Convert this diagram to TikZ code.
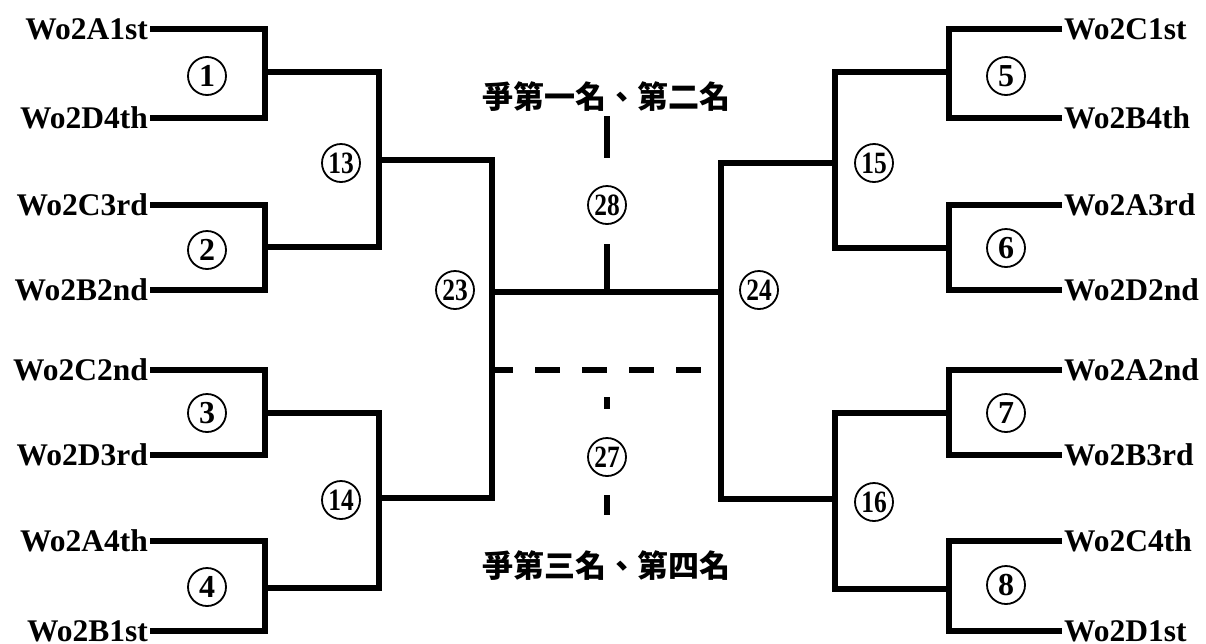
\documentclass[tikz,border=0pt]{standalone}
\usepackage{fontspec}
\usepackage{graphicx}
\setmainfont{Liberation Serif}
\newfontfamily\cjk{Noto Sans CJK TC}
\begin{document}
\begin{tikzpicture}[x=1pt,y=-1pt,
  br/.style={line width=6pt},
  dashbr/.style={line width=6pt,dash pattern=on 25pt off 22pt,dash phase=4pt},
  team/.style={font=\fontsize{31.5}{36}\selectfont\bfseries,inner ysep=0pt,inner xsep=2pt},
  game/.style={circle,draw,line width=1.8pt,minimum size=38pt,inner sep=0pt,font=\fontsize{32}{36}\selectfont\bfseries},
  gameii/.style={game,font=\fontsize{31}{34}\selectfont\bfseries},
  title/.style={font=\cjk\bfseries\fontsize{31}{36}\selectfont,inner sep=0pt}]
\useasboundingbox (0,0) rectangle (1206,643);

% left teams
\node[team,anchor=east] (L1) at (150,29)  {Wo2A1st};
\node[team,anchor=east] (L2) at (150,118) {Wo2D4th};
\node[team,anchor=east] (L3) at (150,205) {Wo2C3rd};
\node[team,anchor=east] (L4) at (150,290) {Wo2B2nd};
\node[team,anchor=east] (L5) at (150,370) {Wo2C2nd};
\node[team,anchor=east] (L6) at (150,455) {Wo2D3rd};
\node[team,anchor=east] (L7) at (150,541) {Wo2A4th};
\node[team,anchor=east] (L8) at (150,631) {Wo2B1st};
% right teams
\node[team,anchor=west] (R1) at (1062,29)  {Wo2C1st};
\node[team,anchor=west] (R2) at (1062,118) {Wo2B4th};
\node[team,anchor=west] (R3) at (1062,205) {Wo2A3rd};
\node[team,anchor=west] (R4) at (1062,290) {Wo2D2nd};
\node[team,anchor=west] (R5) at (1062,370) {Wo2A2nd};
\node[team,anchor=west] (R6) at (1062,455) {Wo2B3rd};
\node[team,anchor=west] (R7) at (1062,541) {Wo2C4th};
\node[team,anchor=west] (R8) at (1062,631) {Wo2D1st};

% joints
\coordinate (m1) at (265,72);  \coordinate (m2) at (265,247);
\coordinate (m3) at (265,413); \coordinate (m4) at (265,588);
\coordinate (n1) at (379,160); \coordinate (n2) at (379,498);
\coordinate (p1) at (492,292);
\coordinate (r1) at (949,72);  \coordinate (r2) at (949,248);
\coordinate (r3) at (949,413); \coordinate (r4) at (949,589);
\coordinate (s1) at (835,163); \coordinate (s2) at (835,499);
\coordinate (q1) at (721,292);
\coordinate (pm) at (607,292);
\coordinate (u1) at (607,116); \coordinate (u2) at (607,158);
\coordinate (u3) at (607,244);
\coordinate (d1) at (492,370); \coordinate (d2) at (703,370);
\coordinate (v1) at (607,397); \coordinate (v2) at (607,409);
\coordinate (v3) at (607,495); \coordinate (v4) at (607,515);

% left bracket
\draw[br] (L1.east) -| (m1) |- (L2.east);
\draw[br] (L3.east) -| (m2) |- (L4.east);
\draw[br] (L5.east) -| (m3) |- (L6.east);
\draw[br] (L7.east) -| (m4) |- (L8.east);
\draw[br] (m1) -| (n1) |- (m2);
\draw[br] (m3) -| (n2) |- (m4);
\draw[br] (n1) -| (p1) |- (n2);
% right bracket
\draw[br] (R1.west) -| (r1) |- (R2.west);
\draw[br] (R3.west) -| (r2) |- (R4.west);
\draw[br] (R5.west) -| (r3) |- (R6.west);
\draw[br] (R7.west) -| (r4) |- (R8.west);
\draw[br] (r1) -| (s1) |- (r2);
\draw[br] (r3) -| (s2) |- (r4);
\draw[br] (s1) -| (q1) |- (s2);
% final
\draw[br] (p1) -- (q1);
\draw[br] (u1) -- (u2);
\draw[br] (u3) -- (pm);
% third place
\draw[dashbr] (d1) -- (d2);
\draw[br] (v1) -- (v2);
\draw[br] (v3) -- (v4);

% game numbers
\node[game] (g1) at (207,76) {1};
\node[game] (g2) at (207,250) {2};
\node[game] (g3) at (207,413) {3};
\node[game] (g4) at (207,587) {4};
\node[game] (g5) at (1006,76) {5};
\node[game] (g6) at (1006,248) {6};
\node[game] (g7) at (1006,413) {7};
\node[game] (g8) at (1006,585) {8};
\node[gameii] (g13) at (341,163) {\scalebox{0.82}[1]{13}};
\node[gameii] (g14) at (341,500) {\scalebox{0.82}[1]{14}};
\node[gameii] (g15) at (874,163) {\scalebox{0.82}[1]{15}};
\node[gameii] (g16) at (874,502) {\scalebox{0.82}[1]{16}};
\node[gameii] (g23) at (455,290) {\scalebox{0.82}[1]{23}};
\node[gameii] (g24) at (759,290) {\scalebox{0.82}[1]{24}};
\node[gameii] (g28) at (607,205) {\scalebox{0.82}[1]{28}};
\node[gameii] (g27) at (607,457) {\scalebox{0.82}[1]{27}};

% titles
\node[title] (t1) at (606,97)  {爭第一名、第二名};
\node[title] (t2) at (606,566) {爭第三名、第四名};
\end{tikzpicture}
\end{document}
